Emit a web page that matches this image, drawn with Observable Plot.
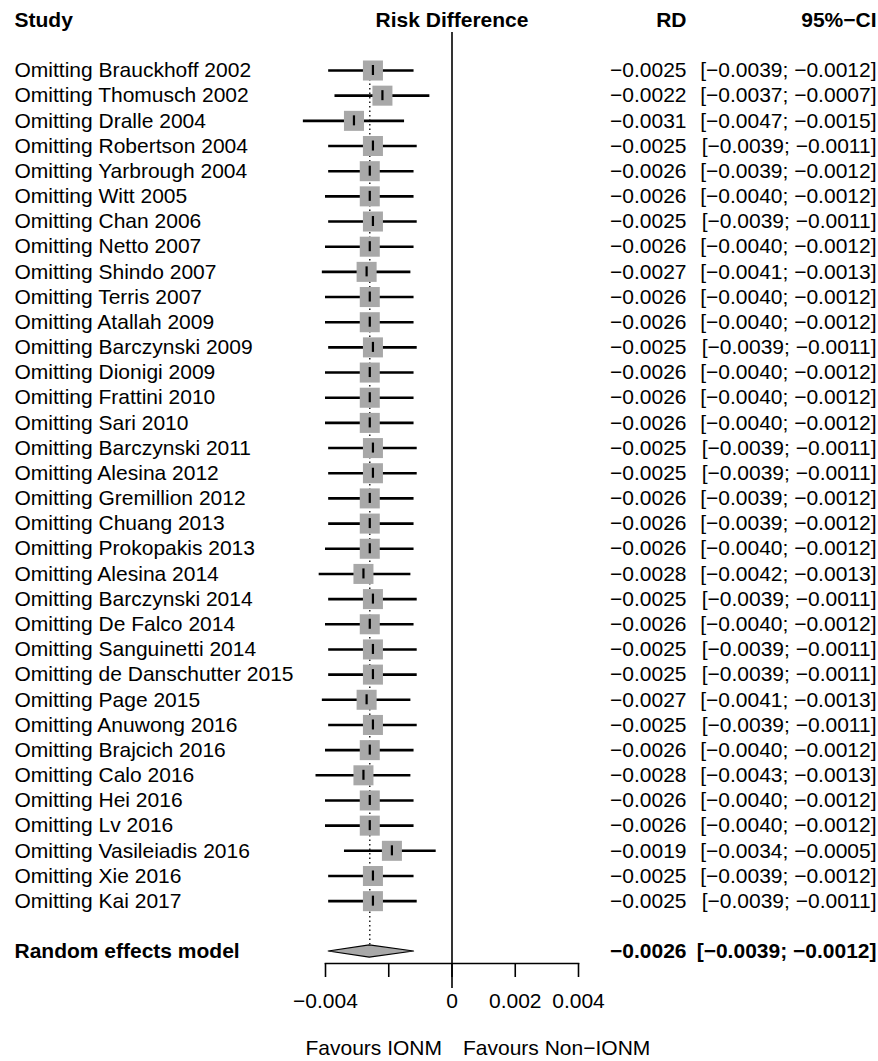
<!DOCTYPE html>
<html>
<head>
<meta charset="utf-8">
<script src="https://cdn.jsdelivr.net/npm/d3@7"></script>
<script src="https://cdn.jsdelivr.net/npm/@observablehq/plot@0.6"></script>
<style>
  html, body { margin: 0; padding: 0; background: #ffffff; }
  #chart svg { display: block; }
</style>
</head>
<body>
<div id="chart"></div>
<script>
// Leave-one-out sensitivity analysis: risk difference, IONM vs non-IONM
const studies = [
  "Brauckhoff 2002", "Thomusch 2002", "Dralle 2004", "Robertson 2004", "Yarbrough 2004",
  "Witt 2005", "Chan 2006", "Netto 2007", "Shindo 2007", "Terris 2007",
  "Atallah 2009", "Barczynski 2009", "Dionigi 2009", "Frattini 2010", "Sari 2010",
  "Barczynski 2011", "Alesina 2012", "Gremillion 2012", "Chuang 2013", "Prokopakis 2013",
  "Alesina 2014", "Barczynski 2014", "De Falco 2014", "Sanguinetti 2014", "de Danschutter 2015",
  "Page 2015", "Anuwong 2016", "Brajcich 2016", "Calo 2016", "Hei 2016",
  "Lv 2016", "Vasileiadis 2016", "Xie 2016", "Kai 2017"
];
const rdValues = [
  -0.0025, -0.0022, -0.0031, -0.0025, -0.0026,
  -0.0026, -0.0025, -0.0026, -0.0027, -0.0026,
  -0.0026, -0.0025, -0.0026, -0.0026, -0.0026,
  -0.0025, -0.0025, -0.0026, -0.0026, -0.0026,
  -0.0028, -0.0025, -0.0026, -0.0025, -0.0025,
  -0.0027, -0.0025, -0.0026, -0.0028, -0.0026,
  -0.0026, -0.0019, -0.0025, -0.0025
];
const ciLower = [
  -0.0039, -0.0037, -0.0047, -0.0039, -0.0039,
  -0.0040, -0.0039, -0.0040, -0.0041, -0.0040,
  -0.0040, -0.0039, -0.0040, -0.0040, -0.0040,
  -0.0039, -0.0039, -0.0039, -0.0039, -0.0040,
  -0.0042, -0.0039, -0.0040, -0.0039, -0.0039,
  -0.0041, -0.0039, -0.0040, -0.0043, -0.0040,
  -0.0040, -0.0034, -0.0039, -0.0039
];
const ciUpper = [
  -0.0012, -0.0007, -0.0015, -0.0011, -0.0012,
  -0.0012, -0.0011, -0.0012, -0.0013, -0.0012,
  -0.0012, -0.0011, -0.0012, -0.0012, -0.0012,
  -0.0011, -0.0011, -0.0012, -0.0012, -0.0012,
  -0.0013, -0.0011, -0.0012, -0.0011, -0.0011,
  -0.0013, -0.0011, -0.0012, -0.0013, -0.0012,
  -0.0012, -0.0005, -0.0012, -0.0011
];
// Random effects model estimate and 95% CI
const pooledLabel = "Random effects model";
const pooledRD = -0.0026;
const pooledCI = [-0.0039, -0.0012];

// Column headers and axis
const headers = ["Study", "Risk Difference", "RD", "95%\u2212CI"];
const xTicks = [-0.004, -0.002, 0, 0.002, 0.004];
const xTickLabels = ["\u22120.004", "", "0", "0.002", "0.004"];
const favourLabels = ["Favours IONM", "Favours Non\u2212IONM"];

const fmt = v => v.toFixed(4).replace("-", "\u2212");

const rows = studies.map((s, i) => ({
  row: i,
  label: "Omitting " + s,
  rd: rdValues[i],
  lo: ciLower[i],
  hi: ciUpper[i]
}));
// pooled row sits two lines below the last study
const pooled = {row: studies.length + 1, label: pooledLabel, rd: pooledRD, lo: pooledCI[0], hi: pooledCI[1]};
const diamond = [
  {x: pooled.lo, y1: pooled.row, y2: pooled.row},
  {x: pooled.rd, y1: pooled.row - 0.24, y2: pooled.row + 0.24},
  {x: pooled.hi, y1: pooled.row, y2: pooled.row}
];

const W = 878, H = 1061;
const mLeft = 325, mRight = 300, mTop = 32, mBottom = 98;
const rdRight = 686 - (W - mRight);
const ciRight = 876 - (W - mRight);
const studyLeft = 14 - mLeft;

const chart = Plot.plot({
  width: W,
  height: H,
  marginLeft: mLeft,
  marginRight: mRight,
  marginTop: mTop,
  marginBottom: mBottom,
  x: {domain: [xTicks[0], xTicks[xTicks.length - 1]], axis: null},
  y: {domain: [0, pooled.row], range: [70, 951], axis: null},
  style: {fontFamily: "'Liberation Sans', Arial, Helvetica, sans-serif", fontSize: "21px", color: "#000", background: "#fff"},
  marks: [
    // line of no effect
    Plot.ruleX([0], {stroke: "#000", strokeWidth: 1.6, insetBottom: -25}),
    // pooled estimate (dotted)
    Plot.ruleX([pooled], {x: "rd", y1: () => rows[0].row, y2: "row", insetBottom: 7, stroke: "#222", strokeWidth: 1.5, strokeDasharray: "1.5,3"}),
    // confidence intervals
    Plot.ruleY(rows, {y: "row", x1: "lo", x2: "hi", stroke: "#000", strokeWidth: 2.6}),
    // study squares
    Plot.dot(rows, {x: "rd", y: "row", symbol: "square", r: 11.3, fill: "#a8a8a8", stroke: null}),
    // point estimate marker
    Plot.ruleX(rows, {x: "rd", y1: "row", y2: "row", insetTop: -5, insetBottom: -5, stroke: "#000", strokeWidth: 2.2}),
    // pooled diamond
    Plot.areaY(diamond, {x: "x", y1: "y1", y2: "y2", fill: "#a8a8a8", stroke: "#000", strokeWidth: 1.2}),
    // x axis
    Plot.frame({anchor: "bottom", stroke: "#000", strokeWidth: 1.6}),
    Plot.axisX({ticks: xTicks, tickFormat: (d) => xTickLabels[xTicks.indexOf(d)], tickSize: 14, tickPadding: 16, stroke: "#000", strokeWidth: 1.6, fontSize: 21, fill: "#000"}),
    // headers
    Plot.text([headers[0]], {text: d => d, frameAnchor: "top-left", lineAnchor: "middle", dx: studyLeft, dy: -12, textAnchor: "start", fontWeight: "bold"}),
    Plot.text([0], {x: d => d, text: () => headers[1], frameAnchor: "top", lineAnchor: "middle", dy: -12, textAnchor: "middle", fontWeight: "bold"}),
    Plot.text([headers[2]], {text: d => d, frameAnchor: "top-right", lineAnchor: "middle", dx: rdRight, dy: -12, textAnchor: "end", fontWeight: "bold"}),
    Plot.text([headers[3]], {text: d => d, frameAnchor: "top-right", lineAnchor: "middle", dx: ciRight, dy: -12, textAnchor: "end", fontWeight: "bold"}),
    // study labels and values
    Plot.text(rows, {y: "row", text: "label", frameAnchor: "left", dx: studyLeft, textAnchor: "start"}),
    Plot.text(rows, {y: "row", text: d => fmt(d.rd), frameAnchor: "right", dx: rdRight, textAnchor: "end"}),
    Plot.text(rows, {y: "row", text: d => `[${fmt(d.lo)}; ${fmt(d.hi)}]`, frameAnchor: "right", dx: ciRight, textAnchor: "end"}),
    // pooled row
    Plot.text([pooled], {y: "row", text: "label", frameAnchor: "left", dx: studyLeft, textAnchor: "start", fontWeight: "bold"}),
    Plot.text([pooled], {y: "row", text: d => fmt(d.rd), frameAnchor: "right", dx: rdRight, textAnchor: "end", fontWeight: "bold"}),
    Plot.text([pooled], {y: "row", text: d => `[${fmt(d.lo)}; ${fmt(d.hi)}]`, frameAnchor: "right", dx: ciRight, textAnchor: "end", fontWeight: "bold"}),
    // favours labels
    Plot.text([0], {x: d => d, text: () => favourLabels[0], frameAnchor: "bottom", lineAnchor: "middle", dy: 85, dx: -10, textAnchor: "end"}),
    Plot.text([0], {x: d => d, text: () => favourLabels[1], frameAnchor: "bottom", lineAnchor: "middle", dy: 85, dx: 11, textAnchor: "start"})
  ]
});

document.getElementById("chart").appendChild(chart);
</script>
</body>
</html>
